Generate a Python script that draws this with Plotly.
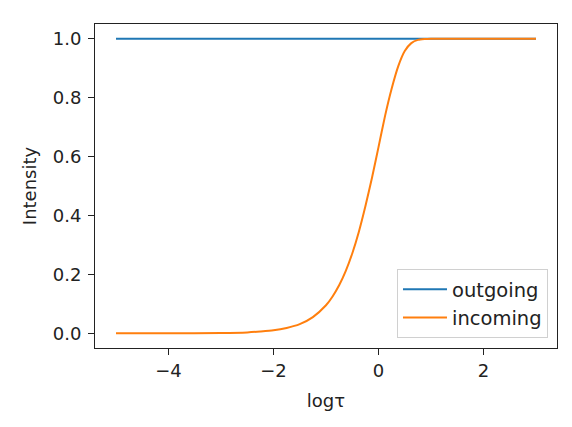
import plotly.graph_objects as go

# Data
log_tau = [-5.0, -4.0, -3.0, -2.5, -2.25, -2.0, -1.75, -1.5, -1.25, -1.0, -0.875,
           -0.75, -0.625, -0.5, -0.375, -0.25, -0.125, 0.0, 0.125, 0.25, 0.375,
           0.5, 0.625, 0.75, 0.875, 1.0, 1.5, 2.0, 3.0]
incoming = [0.0, 0.0001, 0.001, 0.003, 0.006, 0.010, 0.018, 0.031, 0.055, 0.095, 0.125,
            0.163, 0.211, 0.271, 0.344, 0.431, 0.527, 0.632, 0.738, 0.830, 0.906,
            0.958, 0.985, 0.996, 0.999, 1.0, 1.0, 1.0, 1.0]
outgoing_x = [-5.0, 3.0]
outgoing = [1.0, 1.0]

x_ticks = [-4, -2, 0, 2]
y_ticks = [0.0, 0.2, 0.4, 0.6, 0.8, 1.0]

FONT = "DejaVu Sans"
FS = 18

fig = go.Figure()
fig.add_trace(go.Scatter(x=outgoing_x, y=outgoing, mode="lines", name="outgoing",
                         line=dict(color="#1f77b4", width=2)))
fig.add_trace(go.Scatter(x=log_tau, y=incoming, mode="lines", name="incoming",
                         line=dict(color="#ff7f0e", width=2, shape="spline", smoothing=0.6)))

axis_common = dict(showline=True, linecolor="#222", linewidth=1, mirror=True,
                   ticks="outside", ticklen=6, tickwidth=1, tickcolor="#222",
                   showgrid=False, zeroline=False,
                   tickfont=dict(family=FONT, size=FS, color="#222"))

fig.update_xaxes(range=[-5.4, 3.4], tickvals=x_ticks,
                 ticktext=["\u22124", "\u22122", "0", "2"],
                 title=dict(text="log\u03c4", font=dict(family=FONT, size=FS, color="#222"), standoff=14),
                 **axis_common)
fig.update_yaxes(range=[-0.05, 1.05], tickvals=y_ticks,
                 ticktext=["0.0", "0.2", "0.4", "0.6", "0.8", "1.0"],
                 ticklabelstandoff=3,
                 title=dict(text="Intensity", font=dict(family=FONT, size=FS, color="#222"), standoff=11),
                 **axis_common)

fig.update_layout(
    width=564, height=419,
    margin=dict(l=87, r=15, t=16, b=79),
    paper_bgcolor="white", plot_bgcolor="white",
    font=dict(family=FONT, size=FS, color="#222"),
    showlegend=True,
    legend=dict(x=0.9805, y=0.031, xanchor="right", yanchor="bottom",
                bgcolor="rgba(255,255,255,0.8)", bordercolor="#d0d0d0", borderwidth=1,
                font=dict(family=FONT, size=19.5, color="#222"), itemwidth=44),
)

fig.write_html("out.html")
